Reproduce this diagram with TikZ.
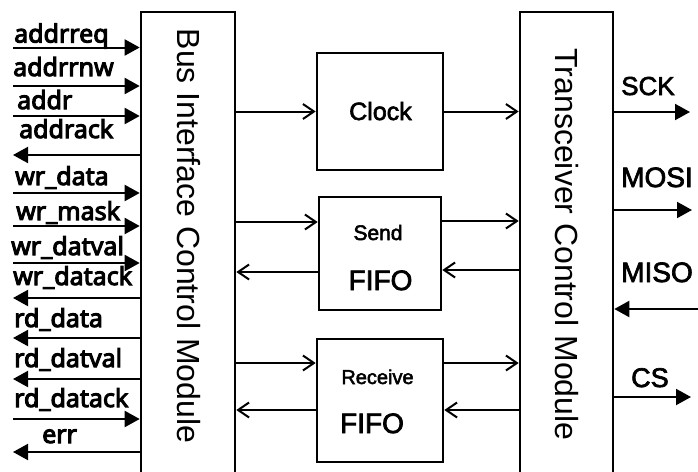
\documentclass[tikz,border=0pt]{standalone}
\usepackage{fontspec}
\setmainfont{Liberation Sans}
\newfontfamily\sigfont{Noto Sans}[FakeBold=4]
\newfontfamily\midfont{Liberation Sans}[FakeBold=2.5]
\usetikzlibrary{arrows.meta}
\begin{document}
\begin{tikzpicture}[x=1pt,y=-1pt,
  box/.style={draw, line width=2.6pt, inner sep=0pt},
  sig/.style={line width=2pt, -{Triangle[length=15pt,width=16pt]}},
  sigout/.style={line width=2pt, {Triangle[length=15pt,width=16pt]}-},
  flow/.style={line width=2pt, -{Straight Barb[length=11pt,width=15pt]}},
  lbl/.style={font=\sigfont\fontsize{25}{30}\selectfont, anchor=base west, inner sep=0pt},
  port/.style={font=\midfont\fontsize{26}{31}\selectfont, anchor=base west, inner sep=0pt},
  title/.style={font=\fontsize{32}{38}\selectfont, rotate=-90, inner sep=0pt},
  inner/.style={anchor=base, inner sep=0pt}
]
\useasboundingbox (0,0) rectangle (698,471);
\fill[white] (0,0) rectangle (698,471);

% main modules (running past the lower edge)
\node[box, minimum width=94pt, minimum height=480pt] (bus) at (188,252) {};
\node[box, minimum width=93pt, minimum height=480pt] (trans) at (566.5,252) {};
\node[title] at (188.5,236) {Bus Interface Control Module};
\node[title] at (566.5,244.5) {Transceiver Control Module};

% inner blocks
\node[box, minimum width=126pt, minimum height=117pt] (clock) at (380,111.5) {};
\node[box, minimum width=122pt, minimum height=113pt] (send) at (380,253.5) {};
\node[box, minimum width=126pt, minimum height=123pt] (recv) at (380,400.5) {};
\node[inner, font=\midfont\fontsize{25}{30}\selectfont] at (380.5,120) {Clock};
\node[inner, font=\midfont\fontsize{21}{25}\selectfont] at (378,240) {Send};
\node[inner, font=\midfont\fontsize{28}{33}\selectfont] at (380.5,290) {FIFO};
\node[inner, font=\midfont\fontsize{20}{24}\selectfont] at (377.5,384) {Receive};
\node[inner, font=\midfont\fontsize{28}{33}\selectfont] at (372,433) {FIFO};

% bus-side signals
\foreach \n/\y/\lx/\ly/\t/\s in {
  1/47.5/14/42.5/addrreq/sig,
  2/86/13/76/addrrnw/sig,
  3/116/17/109/addr/sig,
  4/155/19/138/addrack/sigout,
  5/193/15/185/wr\_data/sig,
  6/226/16/220/wr\_mask/sig,
  7/263/11/255/wr\_datval/sig,
  8/298/13/285/wr\_datack/sigout,
  9/338/14/327/rd\_data/sigout,
  10/379/14/367/rd\_datval/sigout,
  11/419/14/407/rd\_datack/sig,
  12/452/42/443/err/sigout} {
  \coordinate (in\n) at (13,\y);
  \draw[\s] (in\n) -- (in\n -| bus.west);
  \node[lbl] (lab\n) at (\lx,\ly) {\t};
}

% internal data paths
\draw[flow] (bus.east |- clock.west) -- (clock.west);
\draw[flow] (clock.east) -- (clock.east -| trans.west);
\draw[flow] (bus.east |- 0,222) -- (send.west |- 0,222);
\draw[flow] (send.east |- 0,221) -- (trans.west |- 0,221);
\draw[flow] (trans.west |- 0,270) -- (send.east |- 0,270);
\draw[flow] (send.west |- 0,272) -- (bus.east |- 0,272);
\draw[flow] (bus.east |- 0,363) -- (recv.west |- 0,363);
\draw[flow] (recv.east |- 0,363) -- (trans.west |- 0,363);
\draw[flow] (trans.west |- 0,410) -- (recv.east |- 0,410);
\draw[flow] (recv.west |- 0,410) -- (bus.east |- 0,410);

% SPI pins
\coordinate (sck) at (690,112);
\coordinate (mosi) at (692,210);
\coordinate (miso) at (698,309);
\coordinate (cs) at (691,397);
\draw[sig] (trans.east |- sck) -- (sck);
\draw[sig] (trans.east |- mosi) -- (mosi);
\draw[sig] (miso) -- (miso -| trans.east);
\draw[sig] (trans.east |- cs) -- (cs);
\node[port] at (621,95) {SCK};
\node[port, font=\midfont\fontsize{28}{33}\selectfont] at (621,187) {MOSI};
\node[port, font=\midfont\fontsize{28}{33}\selectfont] at (621,282) {MISO};
\node[port, font=\midfont\fontsize{27}{32}\selectfont] at (631,387) {CS};
\end{tikzpicture}
\end{document}
